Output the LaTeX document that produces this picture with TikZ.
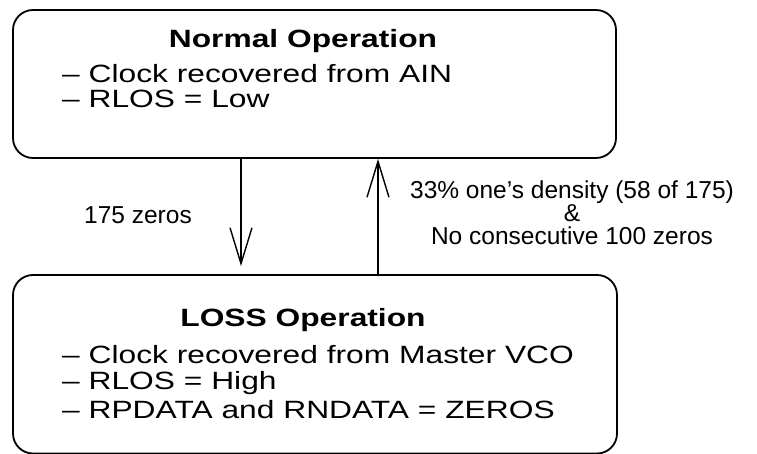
\documentclass[tikz,border=0pt]{standalone}
\usepackage{fontspec}
\setmainfont{Liberation Sans}
\newfontfamily\boxfont[FakeStretch=1.27]{Liberation Sans}
\usetikzlibrary{arrows.meta}
\begin{document}
\begin{tikzpicture}[x=1pt,y=1pt,
  statebox/.style={draw, line width=1.8pt, rounded corners=20pt, inner sep=0pt},
  title/.style={font=\boxfont\bfseries\fontsize{25}{30}\selectfont, inner sep=0pt},
  item/.style={font=\boxfont\fontsize{25}{30}\selectfont, anchor=west, inner sep=0pt},
  cond/.style={font=\fontsize{24.5}{23}\selectfont, align=center, inner sep=0pt},
  arr/.style={line width=1.6pt, -{Straight Barb[length=36pt,width=22pt,line width=1.4pt]}}
]
\useasboundingbox (0,0) rectangle (757,453);

% the two operating states
\node[statebox, minimum width=603pt, minimum height=148pt] (normal) at (314.5,369) {};
\node[statebox, minimum width=604pt, minimum height=178.5pt] (loss) at (315,88.75) {};

\node[title] (normaltitle) at (303,412) {Normal Operation};
\node[item] (n1) at (62,379) {– Clock recovered from AIN};
\node[item] (n2) at (62,354) {– RLOS = Low};

\node[title] (losstitle) at (303,133) {LOSS Operation};
\node[item] (l1) at (62,98) {– Clock recovered from Master VCO};
\node[item] (l2) at (62,70) {– RLOS = High};
\node[item] (l3) at (62,43) {– RPDATA and RNDATA = ZEROS};

% transitions
\coordinate (xdown) at (241,0);
\coordinate (xup) at (378,0);
\draw[arr, shorten >=8pt] (normal.south -| xdown) -- (loss.north -| xdown);
\draw[arr] (loss.north -| xup) -- (normal.south -| xup);

\node[cond] (enter) at (138,238) {175 zeros};
\node[cond] (leave) at (572,240) {33\% one's density (58 of 175)\\ \&\\ No consecutive 100 zeros};
\end{tikzpicture}
\end{document}
